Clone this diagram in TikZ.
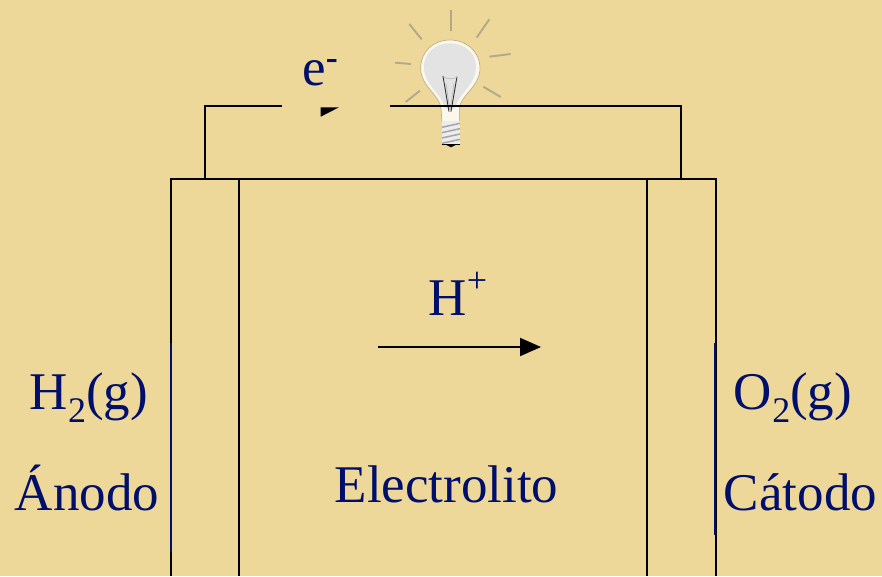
\documentclass[tikz,border=0pt]{standalone}
\usepackage{fontspec}
\setmainfont{Liberation Serif}
\usetikzlibrary{arrows.meta}
\definecolor{bgc}{HTML}{EED899}
\definecolor{navy}{HTML}{000F6B}
\definecolor{rayc}{HTML}{B3A88A}
\tikzset{
  lbl/.style={text=navy,font=\fontsize{53}{60}\selectfont,inner sep=0pt,anchor=base},
  wire/.style={draw=black,line width=2pt},
  thin wire/.style={draw=black,line width=1.6pt},
  blueline/.style={draw=navy,line width=2.2pt},
  ray/.style={draw=rayc,line width=1.9pt}
}
\newcommand{\smalltxt}{\fontsize{36}{40}\selectfont}
\begin{document}
\begin{tikzpicture}[x=1pt,y=-1pt]
\useasboundingbox (0,0) rectangle (882,576);
\fill[bgc] (0,0) rectangle (882,576);
% bulb, in 3x crop coordinates
\begin{scope}[shift={(270,0)},x=.3333pt,y=-.3333pt]
  \foreach \a/\b/\c/\d in {543/30/543/92,658/58/620/113,722/162/658/170,692/291/640/260,450/272/407/306,375/188/423/192,418/72/455/118}
    \draw[ray] (\a,\b) -- (\c,\d);
  \fill[white!80!bgc,draw=rayc,line width=.6pt] (513,325) .. controls (510,285) and (452,260) .. (452,205)
     .. controls (452,155) and (490,120) .. (540,120)
     .. controls (590,120) and (630,155) .. (630,205)
     .. controls (630,260) and (572,285) .. (568,325) -- (568,364) -- (516,364) -- cycle;
  \fill[gray!22] (525,325) .. controls (515,280) and (462,255) .. (462,200)
     .. controls (462,160) and (495,130) .. (540,130)
     .. controls (585,130) and (618,160) .. (618,200)
     .. controls (618,255) and (565,280) .. (555,325) -- cycle;
  \fill[white!85!gray] (516,362) rectangle (570,432);
  \foreach \y in {376,392,408,424}
    \draw[gray!70,line width=1.5pt] (516,\y+6) -- (570,\y-6);
  \draw[black!80,line width=.9pt] (519,228) -- (537,335) (561,230) -- (543,335);
  \draw[gray!60,line width=.5pt] (519,230) .. controls (530,238) and (550,238) .. (561,232) (528,250) -- (540,335) (552,250) -- (540,335);
  \draw[black,line width=1.4pt] (516,433) -- (571,433);
  \fill[black] (527,434) -- (559,434) -- (543,442) -- cycle;
\end{scope}
% coordinates
\coordinate (ol) at (171,179);
\coordinate (or) at (716,179);
\coordinate (olb) at (171,576);
\coordinate (orb) at (716,576);
\coordinate (il) at (239,179);
\coordinate (ilb) at (239,576);
\coordinate (ir) at (647,179);
\coordinate (irb) at (647,576);
\coordinate (c1) at (205,179);
\coordinate (c2) at (205,106);
\coordinate (c3) at (282,106);
\coordinate (c4) at (390,106);
\coordinate (c5) at (681,106);
\coordinate (c6) at (681,179);
\coordinate (a1) at (378,347);
\coordinate (a2) at (541,347);
\coordinate (bl1) at (171,343);
\coordinate (bl2) at (171,552);
\coordinate (br1) at (715,343);
\coordinate (br2) at (715,535);
% cell
\draw[wire] (olb) -- (ol) -- (or) -- (orb);
\draw[thin wire] (il) -- (ilb);
\draw[thin wire] (ir) -- (irb);
\draw[wire] (c1) -- (c2) -- (c3);
\draw[wire] (c4) -- (c5) -- (c6);
\draw[blueline] (bl1) -- (bl2);
\draw[blueline] (br1) -- (br2);
% arrows
\draw[wire,-{Triangle[length=21pt,width=18pt]}] (a1) -- (a2);
\fill[black] (320.7,107.3) -- (339,107.3) -- (320.7,116.7) -- cycle;
% labels
\node[lbl] (e) at (320,85) {e\raisebox{.3em}{\smalltxt\textbf{-}}};
\node[lbl] (h) at (458,315) {H\raisebox{.42em}{\smalltxt +}};
\node[lbl] (h2) at (89,409) {H\raisebox{-.26em}{\smalltxt 2}(g)};
\node[lbl] (o2) at (793,409) {O\raisebox{-.26em}{\smalltxt 2}(g)};
\node[lbl] (an) at (87,510) {Ánodo};
\node[lbl] (ca) at (800.5,510) {Cátodo};
\node[lbl] (el) at (446.5,502) {Electrolito};
\end{tikzpicture}
\end{document}
